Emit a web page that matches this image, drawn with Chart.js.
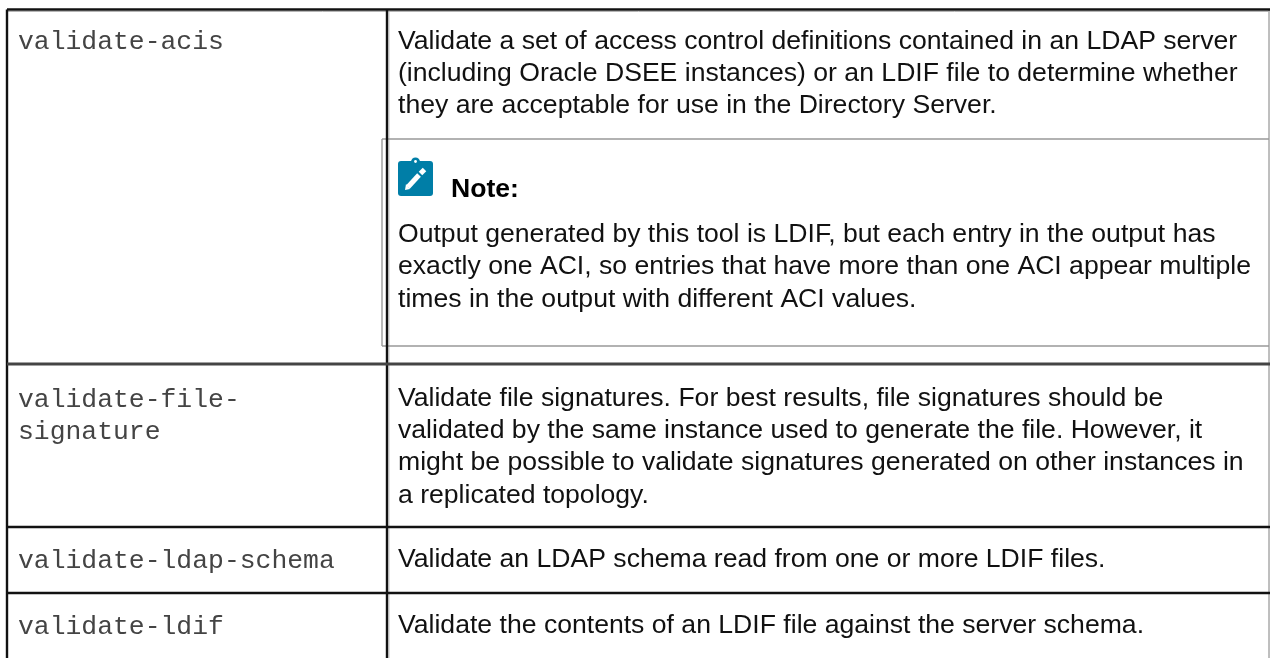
<!DOCTYPE html>
<html><head><meta charset="utf-8">
<style>html,body{margin:0;padding:0;background:#fff}canvas{display:block}</style>
<script src="https://cdn.jsdelivr.net/npm/chart.js@4"></script></head>
<body><canvas id="c" width="1270" height="658"></canvas>
<script>
const commandLabels = [
  ["validate-acis", 18, 49],
  ["validate-file-", 18, 407],
  ["signature", 18, 439],
  ["validate-ldap-schema", 18, 568],
  ["validate-ldif", 18, 634]
];
const descriptionLines = [
  ["Validate a set of access control definitions contained in an LDAP server", 398, 49],
  ["(including Oracle DSEE instances) or an LDIF file to determine whether", 398, 81],
  ["they are acceptable for use in the Directory Server.", 398, 113],
  ["Output generated by this tool is LDIF, but each entry in the output has", 398, 242],
  ["exactly one ACI, so entries that have more than one ACI appear multiple", 398, 274],
  ["times in the output with different ACI values.", 398, 307],
  ["Validate file signatures. For best results, file signatures should be", 398, 406],
  ["validated by the same instance used to generate the file. However, it", 398, 438],
  ["might be possible to validate signatures generated on other instances in", 398, 470],
  ["a replicated topology.", 398, 503],
  ["Validate an LDAP schema read from one or more LDIF files.", 398, 567],
  ["Validate the contents of an LDIF file against the server schema.", 398, 633]
];
const noteLabel = ["Note:", 451, 197];
const darkRules = [
  [[7,9.5],[1270,9.5]], [[7,9.5],[7,658]], [[387,9.5],[387,658]],
  [[7,527],[1270,527]], [[7,593],[1270,593]]
];
const midRules = [[[7,364],[1270,364]]];
const noteRules = [
  [[382,139],[1269,139]], [[382,139],[382,346]], [[382,346],[1269,346]]
];
const edgeRules = [[[1269,10],[1269,658]], [[7,11.5],[1270,11.5]]];
const shadowRules = [[[389,11],[389,658]]];

function rule(seg, color, width){
  return {data: seg.map(p=>({x:p[0],y:p[1]})), borderColor:color, borderWidth:width, pointRadius:0, showLine:true, fill:false, tension:0};
}
const textPlugin = {
  id:'tableText',
  afterDatasetsDraw(chart){
    const {ctx,scales:{x,y}} = chart;
    ctx.save();
    ctx.textBaseline='alphabetic'; ctx.textAlign='left';
    ctx.font='26.4px "Liberation Mono"';
    ctx.fillStyle='#444';
    commandLabels.forEach(t=>ctx.fillText(t[0],x.getPixelForValue(t[1]),y.getPixelForValue(t[2])));
    ctx.font='26.6px "Liberation Sans"';
    ctx.fillStyle='#111';
    descriptionLines.forEach(t=>ctx.fillText(t[0],x.getPixelForValue(t[1]),y.getPixelForValue(t[2])));
    ctx.font='bold 26.6px "Liberation Sans"';
    ctx.fillStyle='#000';
    ctx.fillText(noteLabel[0],x.getPixelForValue(noteLabel[1]),y.getPixelForValue(noteLabel[2]));
    // clipboard note icon
    ctx.fillStyle='#007ea7';
    ctx.beginPath(); ctx.roundRect(398,161,35,35,3); ctx.fill();
    ctx.beginPath(); ctx.arc(415.5,162,4.5,0,Math.PI*2); ctx.fill();
    ctx.fillStyle='#fff';
    ctx.beginPath(); ctx.arc(415.5,161.5,1.4,0,Math.PI*2); ctx.fill();
    ctx.strokeStyle='#fff'; ctx.lineWidth=5; ctx.lineCap='butt';
    ctx.beginPath(); ctx.moveTo(408,187); ctx.lineTo(419,175); ctx.stroke();
    ctx.beginPath(); ctx.moveTo(420.5,173.5); ctx.lineTo(424.5,169.5); ctx.stroke();
    ctx.beginPath(); ctx.moveTo(405,190); ctx.lineTo(406,184); ctx.lineTo(410,189); ctx.closePath(); ctx.fillStyle='#fff'; ctx.fill();
    ctx.restore();
  }
};
// Chart.js paints the first dataset last, so the topmost rules come first.
new Chart(document.getElementById('c'),{
  type:'scatter',
  data:{datasets:[
    ...midRules.map(s=>rule(s,'#444',3)),
    ...darkRules.map(s=>rule(s,'#111',2.4)),
    ...noteRules.map(s=>rule(s,'#999',1.4)),
    ...edgeRules.map(s=>rule(s,'#b5b5b5',1)),
    ...shadowRules.map(s=>rule(s,'#ddd',1))
  ]},
  options:{
    responsive:false, animation:false, maintainAspectRatio:false,
    layout:{padding:0},
    plugins:{legend:{display:false},title:{display:false},tooltip:{enabled:false}},
    scales:{
      x:{type:'linear',min:0,max:1270,display:false},
      y:{type:'linear',min:0,max:658,reverse:true,display:false}
    }
  },
  plugins:[textPlugin]
});
</script></body></html>
